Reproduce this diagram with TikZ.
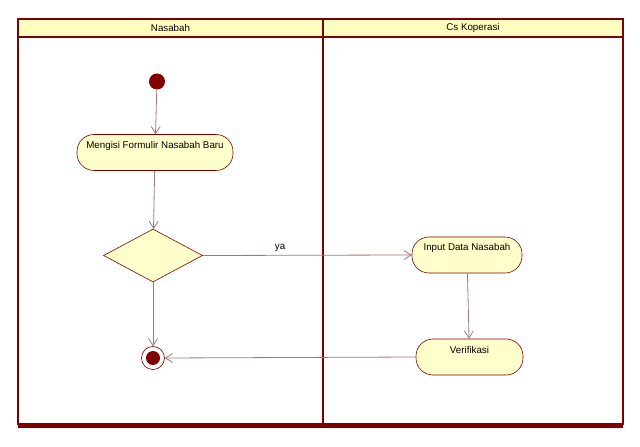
\documentclass[tikz,border=0pt]{standalone}
\usepackage{fontspec}
\setmainfont{Liberation Sans}
\usetikzlibrary{shapes.geometric,arrows.meta}
\definecolor{laneRed}{RGB}{128,0,0}
\definecolor{headYellow}{RGB}{255,255,192}
\definecolor{actYellow}{RGB}{255,255,204}
\definecolor{flowGrey}{RGB}{165,120,120}
\begin{document}
\begin{tikzpicture}[x=1bp, y=-1bp, font=\fontsize{9.8}{11}\selectfont,
    activity/.style={rectangle, rounded corners=17bp, draw=laneRed, line width=0.6bp, fill=actYellow,
      inner xsep=0pt, inner ysep=0pt, text height=14bp, text depth=22bp},
    decision/.style={diamond, draw=laneRed, line width=0.6bp, fill=actYellow,
      inner sep=0pt, minimum width=99bp, minimum height=53bp},
    flow/.style={draw=flowGrey, line width=0.8bp, -{Straight Barb[length=7bp,width=9bp]}}]

    \useasboundingbox (0,0) rectangle (640,447);

    % Draw the swimlanes
    \fill[headYellow] (18,19) rectangle (623,37);
    \draw[laneRed, line width=2bp] (18,19) rectangle (623,424);
    \draw[laneRed, line width=2bp] (18,37) -- (623,37);
    \draw[laneRed, line width=2bp] (323,19) -- (323,424);
    \draw[laneRed, line width=5bp] (18,425.5) -- (623,425.5);

    \node (nasabah) at (170.5,28) {Nasabah};
    \node (cskop) at (473,28) {Cs Koperasi};

    % Draw the start and end nodes
    \node[circle, fill=laneRed, inner sep=0pt, minimum size=16bp] (start) at (157,81.5) {};
    \node[circle, draw=laneRed, line width=0.6bp, fill=white, inner sep=0pt, minimum size=23bp] (end) at (153,358) {};
    \fill[laneRed] (end) circle (7bp);

    % Draw the activities
    \node[activity, minimum width=156bp] (mengisi) at (155,152.5) {Mengisi Formulir Nasabah Baru};
    \node[decision] (dec) at (153,255.5) {};
    \node[activity, minimum width=110bp] (input) at (467,255) {Input Data Nasabah};
    \node[activity, minimum width=107bp] (verif) at (469.5,357) {Verifikasi};

    % Draw the flows
    \draw[flow] (start) -- (mengisi);
    \draw[flow] (mengisi) -- (dec);
    \draw[flow] (dec) -- (end);
    \draw[flow] (dec.east) -- (input.west) node[pos=0.37, above, text=black] (ya) {ya};
    \draw[flow] (input) -- (verif);
    \draw[flow] (verif.west) -- (end.east);
\end{tikzpicture}
\end{document}
